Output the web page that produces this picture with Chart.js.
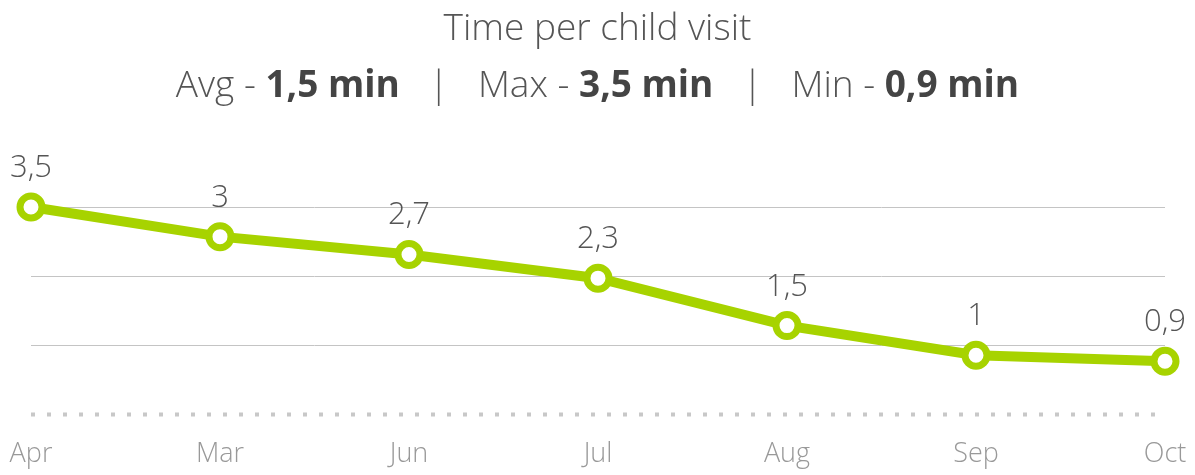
<!DOCTYPE html>
<html lang="en">
  <head>
    <meta charset="UTF-8" />
    <meta name="viewport" content="width=device-width, initial-scale=1.0" />
    <script src="https://cdn.jsdelivr.net/npm/chart.js"></script>
    <title>Time per child visit</title>
    <style>
      html, body {
        margin: 0;
        padding: 0;
        background: #fff;
      }
      #wrap {
        position: relative;
        width: 1195px;
        height: 475px;
        overflow: hidden;
      }
      .head {
        position: absolute;
        left: 0;
        width: 1195px;
        text-align: center;
        font-family: "Open Sans", sans-serif;
        font-weight: 300;
        font-size: 37px;
        line-height: 37px;
        color: #555;
        white-space: pre;
      }
      #title { top: 7px; }
      #subtitle { top: 64px; }
      #subtitle b { font-weight: 700; color: #444; }
      #subtitle .sep { margin: 0 29px; }
      #chart {
        position: absolute;
        left: 0;
        top: 0;
      }
    </style>
  </head>
  <body>
    <div id="wrap">
      <canvas id="chart" width="1195" height="500"></canvas>
      <div class="head" id="title">Time per child visit</div>
      <div class="head" id="subtitle">Avg - <b>1,5 min</b><span class="sep">|</span>Max - <b>3,5 min</b><span class="sep">|</span>Min - <b>0,9 min</b></div>
    </div>
    <script>
      const months = ['Apr', 'Mar', 'Jun', 'Jul', 'Aug', 'Sep', 'Oct'];
      const minutes = [3.5, 3, 2.7, 2.3, 1.5, 1, 0.9];
      const gridValues = [0, 3.5 / 3, 7 / 3, 3.5];

      const green = '#a7d300';

      // value labels above each point, comma decimals
      const valueLabels = {
        id: 'valueLabels',
        afterDatasetsDraw(chart) {
          const ctx = chart.ctx;
          const meta = chart.getDatasetMeta(0);
          ctx.save();
          ctx.font = '300 31px "Open Sans", sans-serif';
          ctx.fillStyle = '#555';
          ctx.textAlign = 'center';
          ctx.textBaseline = 'alphabetic';
          meta.data.forEach((pt, i) => {
            const txt = String(minutes[i]).replace('.', ',');
            ctx.fillText(txt, pt.x, pt.y - 30);
          });
          ctx.restore();
        }
      };

      // dotted zero line
      const baseline = {
        id: 'baseline',
        beforeDatasetsDraw(chart) {
          const ctx = chart.ctx;
          const y = chart.scales.y.getPixelForValue(0);
          const area = chart.chartArea;
          ctx.save();
          ctx.strokeStyle = '#c8c8c8';
          ctx.lineWidth = 4;
          ctx.setLineDash([4, 12]);
          ctx.beginPath();
          ctx.moveTo(area.left, y);
          ctx.lineTo(area.right - 6, y);
          ctx.stroke();
          ctx.restore();
        }
      };

      new Chart(document.getElementById('chart'), {
        type: 'line',
        data: {
          labels: months,
          datasets: [{
            data: minutes,
            borderColor: green,
            borderWidth: 10,
            backgroundColor: '#fff',
            pointBackgroundColor: '#fff',
            pointBorderColor: green,
            pointBorderWidth: 7,
            pointRadius: 11,
            pointHoverRadius: 11,
            tension: 0,
            fill: false,
            clip: false
          }]
        },
        options: {
          responsive: false,
          animation: false,
          layout: {
            padding: { top: 207, left: 31, right: 30, bottom: 5.5 }
          },
          plugins: {
            legend: { display: false },
            tooltip: { enabled: false }
          },
          scales: {
            x: {
              offset: false,
              grid: { display: false, drawTicks: false },
              border: { display: false },
              ticks: {
                padding: 0,
                color: '#999',
                font: { family: '"Open Sans", sans-serif', weight: 300, size: 27, lineHeight: 2.96 },
                maxRotation: 0,
                autoSkip: false
              }
            },
            y: {
              min: 0,
              max: 3.5,
              afterBuildTicks(scale) {
                scale.ticks = gridValues.map(v => ({ value: v }));
              },
              grid: {
                drawTicks: false,
                color: ctx => ctx.tick && ctx.tick.value === 0 ? 'rgba(0,0,0,0)' : '#c4c4c4',
                lineWidth: 1
              },
              border: { display: false },
              ticks: { display: false }
            }
          }
        },
        plugins: [baseline, valueLabels]
      });
    </script>
  </body>
</html>
